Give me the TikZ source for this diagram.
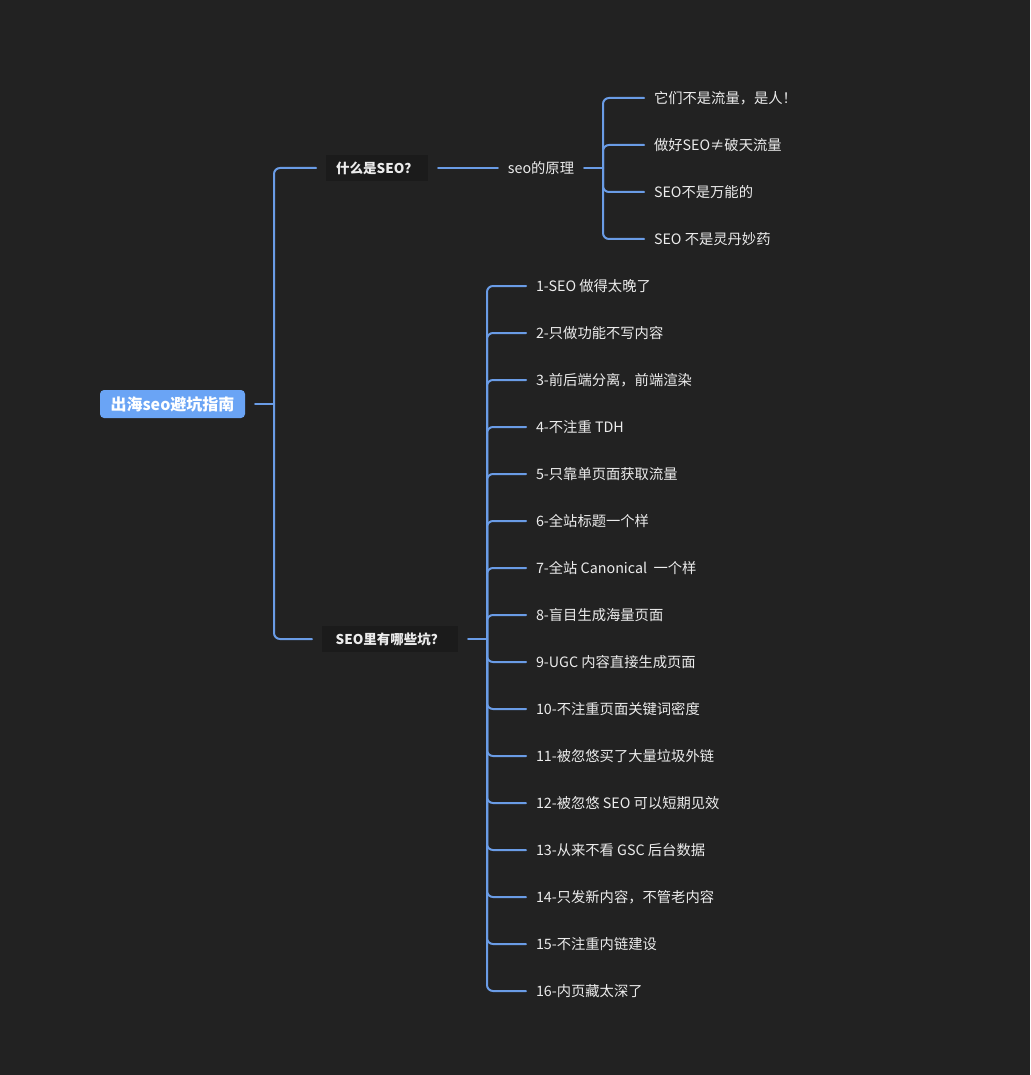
\documentclass[tikz,border=0pt]{standalone}
\usepackage{fontspec}
\setmainfont{Noto Sans CJK SC}
\definecolor{bg}{HTML}{222222}
\definecolor{conncol}{HTML}{6A9CE6}
\definecolor{rootfill}{HTML}{6AA4F5}
\definecolor{boxfill}{HTML}{1B1B1B}
\definecolor{txt}{HTML}{ECECEC}
\tikzset{
  conn/.style={draw=conncol, line width=2pt, line cap=round},
  rootbox/.style={fill=rootfill, rounded corners=4pt, text=white, font=\fontsize{16}{19}\selectfont\bfseries, minimum width=145pt, minimum height=28pt, inner xsep=8pt, inner ysep=0pt, outer sep=10pt},
  topicbox/.style={fill=boxfill, text=txt, font=\fontsize{13.5}{16}\selectfont\bfseries, minimum height=26pt, inner ysep=0pt, outer sep=10pt},
  plain/.style={text=txt, font=\fontsize{14.3}{17}\selectfont, inner xsep=10pt, inner ysep=2pt, outer sep=0pt},
  leaf/.style={plain, anchor=west}
}
\begin{document}
\begin{tikzpicture}[x=1pt,y=-1pt]
\fill[bg] (0,0) rectangle (1030,1075);
\useasboundingbox (0,0) rectangle (1030,1075);

\node[rootbox] (root) at (172.5,404) {出海seo避坑指南};
\node[topicbox, minimum width=102pt] (a) at (377,168) {什么是SEO？};
\node[topicbox, minimum width=136pt] (b) at (390,639) {SEO里有哪些坑？};
\node[plain] (p) at (541,168) {seo的原理};

\coordinate (t0) at (274,404);
\coordinate (t1) at (603,168);
\coordinate (t2) at (487,639);

\draw[conn] (root.east) -- (t0);
\draw[conn, rounded corners=6pt] (t0) |- (a.west);
\draw[conn, rounded corners=6pt] (t0) |- (b.west);
\draw[conn] (a.east) -- (p.west);
\draw[conn] (p.east) -- (t1);
\draw[conn] (b.east) -- (t2);

\node[leaf] (s1) at (644,98) {它们不是流量，是人！};
\node[leaf] (s2) at (644,145) {做好SEO≠破天流量};
\node[leaf] (s3) at (644,192) {SEO不是万能的};
\node[leaf] (s4) at (644,239) {SEO 不是灵丹妙药};
\foreach \i in {1,...,4} {
  \draw[conn, rounded corners=6pt] (t1) |- (s\i.west);
}

\foreach \i/\t in {
  1/{1-SEO 做得太晚了},
  2/{2-只做功能不写内容},
  3/{3-前后端分离，前端渲染},
  4/{4-不注重 TDH},
  5/{5-只靠单页面获取流量},
  6/{6-全站标题一个样},
  7/{7-全站 Canonical \ 一个样},
  8/{8-盲目生成海量页面},
  9/{9-UGC 内容直接生成页面},
  10/{10-不注重页面关键词密度},
  11/{11-被忽悠买了大量垃圾外链},
  12/{12-被忽悠 SEO 可以短期见效},
  13/{13-从来不看 GSC 后台数据},
  14/{14-只发新内容，不管老内容},
  15/{15-不注重内链建设},
  16/{16-内页藏太深了}} {
  \node[leaf] (L\i) at (526,{286+47*(\i-1)}) {\t};
  \draw[conn, rounded corners=6pt] (t2) |- (L\i.west);
}
\end{tikzpicture}
\end{document}
